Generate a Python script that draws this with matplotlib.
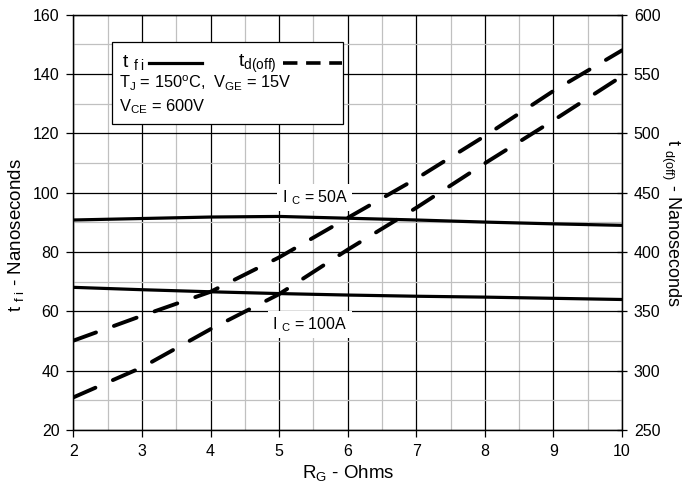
import numpy as np
import matplotlib.pyplot as plt
from matplotlib.patches import Rectangle
from matplotlib.lines import Line2D

plt.rcParams['font.family'] = ['Liberation Sans', 'DejaVu Sans']
plt.rcParams['mathtext.fontset'] = 'custom'
plt.rcParams['mathtext.rm'] = 'Liberation Sans'
plt.rcParams['mathtext.it'] = 'Liberation Sans:italic'
plt.rcParams['mathtext.bf'] = 'Liberation Sans:bold'

# gate resistance (Ohms)
rg = [2, 3, 4, 5, 6, 7, 8, 9, 10]

# fall time t_fi (ns), left axis
tfi_50a = [90.8, 91.3, 91.8, 92.0, 91.4, 90.8, 90.1, 89.5, 89.0]
tfi_100a = [68.1, 67.3, 66.6, 66.0, 65.5, 65.1, 64.8, 64.4, 64.0]

# turn-off delay t_d(off) (ns), right axis
tdoff_upper = [325.3, 346.3, 366.5, 395.5, 428.8, 461.8, 497.8, 535.8, 570.0]
tdoff_lower = [277.5, 302.8, 335.0, 364.5, 402.0, 437.3, 474.8, 511.0, 548.3]

TICK_FS = 11.5
LABEL_FS = 13.5
TEXT_FS = 11.8

fig = plt.figure(figsize=(6.86, 4.91), dpi=100)
ax = fig.add_axes([0.1069, 0.1242, 0.7999, 0.8458])

ax.set_xlim(2, 10)
ax.set_ylim(20, 160)
ax.set_xticks(np.arange(2, 11, 1))
ax.set_xticks(np.arange(2.5, 10, 1), minor=True)
ax.set_yticks(np.arange(20, 161, 20))
ax.set_yticks(np.arange(30, 160, 20), minor=True)
ax.grid(which='major', color='black', lw=0.9)
ax.grid(which='minor', color='#c0c0c0', lw=0.9)
ax.set_axisbelow(True)
ax.tick_params(which='minor', length=0)
ax.tick_params(which='major', direction='out', length=5, labelsize=TICK_FS, width=0.9, pad=5)
ax.tick_params(axis='y', right=False)
for s in ax.spines.values():
    s.set_linewidth(0.9)

ax.plot(rg, tfi_50a, color='black', lw=2.3, solid_capstyle='butt', zorder=3)
ax.plot(rg, tfi_100a, color='black', lw=2.3, solid_capstyle='butt', zorder=3)

ax.set_xlabel(r'R$_\mathrm{G}$ - Ohms', fontsize=LABEL_FS, labelpad=3)
ax.set_ylabel(r't $_\mathrm{f\ i}$ - Nanoseconds', fontsize=LABEL_FS, labelpad=5)
ax.yaxis.label.set_y(0.47)

ax.text(5.52, 98.3, r'I $_\mathrm{C}$ = 50A', fontsize=11.5, ha='center', va='center',
        bbox=dict(facecolor='white', edgecolor='none', pad=3), zorder=2)
ax.text(5.45, 55.6, r'I $_\mathrm{C}$ = 100A', fontsize=11.5, ha='center', va='center',
        bbox=dict(facecolor='white', edgecolor='none', pad=3), zorder=2)

ax2 = ax.twinx()
ax2.set_ylim(250, 600)
ax2.set_yticks(np.arange(250, 601, 50))
ax2.tick_params(direction='inout', length=7, labelsize=TICK_FS, width=0.9, pad=5)
ax2.set_ylabel(r't $_\mathrm{d(off)}$ - Nanoseconds', fontsize=13, rotation=270,
               va='bottom', labelpad=-1)
for s in ax2.spines.values():
    s.set_linewidth(0.9)

for vals in (tdoff_upper, tdoff_lower):
    ln, = ax2.plot(rg, vals, color='black', lw=2.8, dash_capstyle='round', zorder=3)
    ln.set_dashes([6.2, 4.9])

# legend box
ax2.add_patch(Rectangle((2.564, 123.2), 3.366, 27.7, transform=ax.transData,
                        facecolor='white', edgecolor='black', lw=0.9, zorder=5))
ax2.text(2.715, 142.5, r't $_\mathrm{f\ i}$', transform=ax.transData, fontsize=14,
         va='baseline', zorder=6)
ax2.add_line(Line2D([3.10, 3.87], [143.6, 143.6], transform=ax.transData,
                    color='black', lw=2.3, zorder=6))
ax2.text(4.40, 142.5, r't$_\mathrm{d(off)}$', transform=ax.transData, fontsize=14,
         va='baseline', zorder=6)
leg_dash = Line2D([5.05, 5.92], [143.6, 143.6], transform=ax.transData,
                  color='black', lw=2.6, zorder=6)
leg_dash.set_dashes([4.0, 2.4])
ax2.add_line(leg_dash)
ax2.text(2.66, 135.2, r'T$_\mathrm{J}$ = 150$^\mathrm{o}$C,  V$_\mathrm{GE}$ = 15V',
         transform=ax.transData, fontsize=TEXT_FS, va='baseline', zorder=6)
ax2.text(2.66, 127.3, r'V$_\mathrm{CE}$ = 600V', transform=ax.transData,
         fontsize=TEXT_FS, va='baseline', zorder=6)

plt.savefig('out.png', dpi=100)
